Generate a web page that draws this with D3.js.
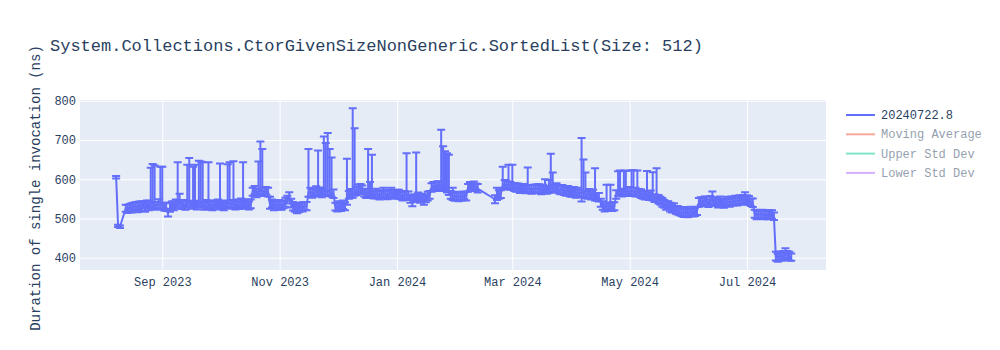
<!DOCTYPE html>
<html>
<head>
<meta charset="utf-8">
<script src="https://cdn.jsdelivr.net/npm/d3@7"></script>
<style>
  html, body { margin: 0; padding: 0; background: #fff; }
  svg { display: block; }
  text { font-family: "Courier New", "Liberation Mono", monospace; }
</style>
</head>
<body>
<svg id="chart" width="1000" height="350"></svg>
<script>
// ---------------- DATA ----------------
const chartTitle = "System.Collections.CtorGivenSizeNonGeneric.SortedList(Size: 512)";
const yAxisTitle = "Duration of single invocation (ns)";
const legendNames = ["20240722.8", "Moving Average", "Upper Std Dev", "Lower Std Dev"];
const legendColors = ["#636efa", "#EF553B", "#00cc96", "#ab63fa"];
const legendVisible = [true, false, false, false];

const xTickDates = ["2023-09-01", "2023-11-01", "2024-01-01", "2024-03-01", "2024-05-01", "2024-07-01"];
const xTickLabels = ["Sep 2023", "Nov 2023", "Jan 2024", "Mar 2024", "May 2024", "Jul 2024"];
const yTicks = [400, 500, 600, 700, 800];
const xRange = ["2023-07-20T05:00", "2024-08-11T02:00"];
const yRange = [368.7, 801.8];

const dates = [
  "2023-08-08","2023-08-09","2023-08-10","2023-08-13","2023-08-14","2023-08-15","2023-08-16","2023-08-17","2023-08-18","2023-08-19","2023-08-20","2023-08-21","2023-08-22","2023-08-23","2023-08-24","2023-08-25","2023-08-26","2023-08-27","2023-08-28","2023-08-29","2023-08-30","2023-08-31",
  "2023-09-01","2023-09-02","2023-09-03","2023-09-04","2023-09-05","2023-09-06","2023-09-07","2023-09-08","2023-09-09","2023-09-10","2023-09-11","2023-09-12","2023-09-13","2023-09-14","2023-09-15","2023-09-16","2023-09-17","2023-09-18","2023-09-19","2023-09-20","2023-09-21","2023-09-22","2023-09-23","2023-09-24","2023-09-25","2023-09-26","2023-09-27","2023-09-28","2023-09-29","2023-09-30",
  "2023-10-01","2023-10-02","2023-10-03","2023-10-04","2023-10-05","2023-10-06","2023-10-07","2023-10-08","2023-10-09","2023-10-10","2023-10-11","2023-10-12","2023-10-13","2023-10-14","2023-10-15","2023-10-16","2023-10-17","2023-10-18","2023-10-19","2023-10-20","2023-10-21","2023-10-22","2023-10-23","2023-10-24","2023-10-25","2023-10-26","2023-10-27","2023-10-28","2023-10-29","2023-10-30","2023-10-31",
  "2023-11-01","2023-11-02","2023-11-03","2023-11-04","2023-11-05","2023-11-06","2023-11-07","2023-11-08","2023-11-09","2023-11-10","2023-11-11","2023-11-12","2023-11-13","2023-11-14","2023-11-15","2023-11-16","2023-11-17","2023-11-18","2023-11-19","2023-11-20","2023-11-21","2023-11-22","2023-11-23","2023-11-24","2023-11-25","2023-11-26","2023-11-27","2023-11-28","2023-11-29","2023-11-30",
  "2023-12-01","2023-12-02","2023-12-03","2023-12-04","2023-12-05","2023-12-06","2023-12-07","2023-12-08","2023-12-09","2023-12-10","2023-12-11","2023-12-12","2023-12-13","2023-12-14","2023-12-15","2023-12-16","2023-12-17","2023-12-18","2023-12-19","2023-12-20","2023-12-21","2023-12-22","2023-12-23","2023-12-24","2023-12-25","2023-12-26","2023-12-27","2023-12-28","2023-12-29","2023-12-30","2023-12-31",
  "2024-01-01","2024-01-02","2024-01-03","2024-01-04","2024-01-05","2024-01-06","2024-01-07","2024-01-08","2024-01-09","2024-01-10","2024-01-11","2024-01-12","2024-01-13","2024-01-14","2024-01-15","2024-01-16","2024-01-17","2024-01-18","2024-01-19","2024-01-20","2024-01-21","2024-01-22","2024-01-23","2024-01-24","2024-01-25","2024-01-26","2024-01-27","2024-01-28","2024-01-29","2024-01-30","2024-01-31",
  "2024-02-01","2024-02-02","2024-02-03","2024-02-04","2024-02-05","2024-02-06","2024-02-07","2024-02-08","2024-02-09","2024-02-10","2024-02-11","2024-02-12","2024-02-21","2024-02-22","2024-02-23","2024-02-24","2024-02-25","2024-02-26","2024-02-27","2024-02-28","2024-02-29",
  "2024-03-01","2024-03-02","2024-03-03","2024-03-04","2024-03-05","2024-03-06","2024-03-07","2024-03-08","2024-03-09","2024-03-10","2024-03-11","2024-03-12","2024-03-13","2024-03-14","2024-03-15","2024-03-16","2024-03-17","2024-03-18","2024-03-19","2024-03-20","2024-03-21","2024-03-22","2024-03-23","2024-03-24","2024-03-25","2024-03-26","2024-03-27","2024-03-28","2024-03-29","2024-03-30","2024-03-31",
  "2024-04-01","2024-04-02","2024-04-03","2024-04-04","2024-04-05","2024-04-06","2024-04-07","2024-04-08","2024-04-09","2024-04-10","2024-04-11","2024-04-12","2024-04-13","2024-04-14","2024-04-15","2024-04-16","2024-04-17","2024-04-18","2024-04-19","2024-04-20","2024-04-21","2024-04-22","2024-04-23","2024-04-24","2024-04-25","2024-04-26","2024-04-27","2024-04-28","2024-04-29","2024-04-30",
  "2024-05-01","2024-05-02","2024-05-03","2024-05-04","2024-05-05","2024-05-06","2024-05-07","2024-05-08","2024-05-09","2024-05-10","2024-05-11","2024-05-12","2024-05-13","2024-05-14","2024-05-15","2024-05-16","2024-05-17","2024-05-18","2024-05-19","2024-05-20","2024-05-21","2024-05-22","2024-05-23","2024-05-24","2024-05-25","2024-05-26","2024-05-27","2024-05-28","2024-05-29","2024-05-30","2024-05-31",
  "2024-06-01","2024-06-02","2024-06-03","2024-06-04","2024-06-05","2024-06-06","2024-06-07","2024-06-08","2024-06-09","2024-06-10","2024-06-11","2024-06-12","2024-06-13","2024-06-14","2024-06-15","2024-06-16","2024-06-17","2024-06-18","2024-06-19","2024-06-20","2024-06-21","2024-06-22","2024-06-23","2024-06-24","2024-06-25","2024-06-26","2024-06-27","2024-06-28","2024-06-29","2024-06-30",
  "2024-07-01","2024-07-02","2024-07-03","2024-07-04","2024-07-05","2024-07-06","2024-07-07","2024-07-08","2024-07-09","2024-07-10","2024-07-11","2024-07-12","2024-07-13","2024-07-14","2024-07-15","2024-07-16","2024-07-17","2024-07-18","2024-07-19","2024-07-20","2024-07-21","2024-07-22","2024-07-23","2024-07-24"
];

const values = [
  605,481,479,526,524,528,527,530,532,529,533,531,535,530,536,533,540,538,535,532,537,534,
  536,530,528,515,527,533,531,538,540,545,534,537,532,540,542,535,538,540,533,541,539,537,532,535,540,534,531,536,533,538,
  540,534,530,536,538,541,535,539,533,536,534,538,540,535,537,533,536,568,571,566,568,572,569,567,570,566,535,538,531,536,533,
  537,532,535,540,548,555,540,530,527,522,526,530,528,532,530,565,568,563,567,570,566,569,564,571,568,572,567,565,562,530,
  528,532,529,534,531,545,560,563,565,568,570,574,578,572,566,562,565,568,563,560,564,561,558,562,565,561,559,563,566,562,560,
  563,561,558,556,560,562,557,550,543,552,558,556,549,553,545,551,556,560,578,583,580,585,582,586,580,582,576,570,560,557,555,
  558,554,557,555,559,556,578,581,583,582,579,576,549,557,560,562,585,588,584,587,583,
  586,580,577,579,575,578,576,574,577,575,573,576,574,577,575,572,574,576,573,575,578,580,576,578,574,572,575,570,568,571,566,
  565,568,563,566,564,567,565,562,560,563,558,561,556,555,553,540,532,528,533,530,535,529,531,560,568,571,566,569,572,567,
  570,568,571,566,569,565,562,560,558,561,557,559,556,552,555,548,545,540,537,532,534,528,525,527,522,520,518,516,514,517,513,
  515,518,514,516,519,540,544,541,546,543,539,545,548,544,541,538,542,540,537,541,543,540,544,542,546,543,547,545,548,546,
  549,545,541,539,512,508,511,509,512,507,510,508,511,509,505,403,400,404,402,405,410,407,403,401
];

const errPlus = [
  3,3,3,9,10,9,12,10,9,13,10,12,9,13,10,12,89,101,100,10,12,98,
  96,10,12,10,12,10,13,10,103,18,12,10,12,97,112,10,94,97,12,106,106,106,10,12,103,10,12,10,13,10,
  100,10,12,10,100,102,12,107,10,12,10,13,103,10,12,10,12,10,12,10,77,124,108,12,10,12,20,10,12,10,12,
  10,12,10,13,10,12,10,12,10,10,12,10,13,10,12,112,10,12,10,12,107,10,12,138,124,146,110,90,12,10,
  10,12,10,12,10,107,10,12,216,162,10,12,10,12,10,12,112,25,99,10,12,10,12,10,13,10,12,10,12,10,12,
  10,12,10,12,10,104,12,10,12,10,110,10,12,10,12,10,12,10,12,10,13,10,12,140,104,89,90,92,10,21,10,
  10,12,10,12,10,12,10,12,10,12,10,12,10,21,12,10,47,10,12,50,10,
  51,10,12,10,12,10,12,10,53,10,12,10,12,10,12,10,12,24,10,23,87,37,10,12,10,12,10,12,10,12,10,
  10,12,10,12,10,138,85,55,10,12,10,12,72,10,12,10,12,10,53,10,51,12,10,12,52,51,10,53,49,12,
  10,55,52,12,53,10,12,10,12,60,10,12,62,10,73,12,10,12,10,12,10,12,10,12,10,12,10,12,10,12,10,
  10,12,10,12,10,12,10,12,10,12,10,12,21,10,12,10,14,10,12,10,12,10,12,10,12,10,12,10,12,21,
  10,12,10,12,10,12,10,12,10,12,10,12,10,12,10,12,10,12,10,12,14,10,12,10
];

const errMinus = [
  3,3,3,9,10,9,12,10,9,13,10,12,9,13,10,12,10,12,10,10,12,10,
  10,10,9,10,10,9,10,12,10,10,10,9,10,10,12,10,10,12,10,10,10,10,10,9,10,10,10,9,10,10,
  10,10,9,10,10,12,10,10,10,9,10,10,10,10,9,10,10,10,10,12,10,10,10,10,9,10,10,10,10,9,10,
  10,10,9,10,10,10,12,10,10,9,10,10,10,10,9,10,12,10,10,10,10,9,10,10,10,12,10,10,10,10,
  10,9,10,10,10,10,10,10,12,10,10,9,10,10,10,10,10,10,10,9,10,10,10,10,10,9,10,10,10,10,10,
  10,10,9,10,10,10,10,10,12,10,10,10,9,10,10,10,10,10,10,10,10,9,10,10,10,10,10,10,10,10,10,
  10,10,10,9,10,10,10,10,10,10,9,10,10,10,10,10,10,10,10,10,10,
  10,10,9,10,10,10,10,10,10,9,10,10,10,10,9,10,10,10,10,10,10,10,10,9,10,10,10,10,10,10,10,
  10,10,10,10,10,24,10,10,10,10,10,10,10,10,10,10,10,10,10,10,10,10,10,10,10,10,10,10,10,10,
  10,10,9,10,10,10,10,10,10,9,10,10,10,10,9,10,10,10,10,10,10,10,10,9,10,10,10,10,10,10,10,
  10,10,9,10,10,10,10,10,10,9,10,10,10,10,9,10,10,10,10,10,10,10,10,9,10,10,10,10,10,10,
  10,10,9,10,10,10,10,10,10,9,10,10,10,10,9,10,10,10,10,10,10,10,10,9
];

// ---------------- CHART ----------------
const plot = { left: 80, right: 826, top: 100, bottom: 270 };
const parseDay = d3.timeParse("%Y-%m-%d");
const parseDT = d3.timeParse("%Y-%m-%dT%H:%M");
const fontStack = '"Courier New", "Liberation Mono", monospace';

const n = Math.min(dates.length, values.length, errPlus.length, errMinus.length);
const data = d3.range(n).map(i => ({
  date: parseDay(dates[i]), v: values[i], ep: errPlus[i], em: errMinus[i]
}));

const x = d3.scaleTime().domain(xRange.map(parseDT)).range([plot.left, plot.right]);
const y = d3.scaleLinear().domain(yRange).range([plot.bottom, plot.top]);

const svg = d3.select("#chart");
const textColor = "#2a3f5f";

svg.append("rect").attr("x", 0).attr("y", 0).attr("width", 1000).attr("height", 350).attr("fill", "#fff");
svg.append("rect")
  .attr("x", plot.left).attr("y", plot.top)
  .attr("width", plot.right - plot.left).attr("height", plot.bottom - plot.top)
  .attr("fill", "#E5ECF6");

const xTicks = xTickDates.map(parseDay);
const xAxis = d3.axisBottom(x).tickValues(xTicks)
  .tickFormat((d, i) => xTickLabels[i]).tickSize(-(plot.bottom - plot.top)).tickPadding(7);
const gx = svg.append("g").attr("transform", `translate(0,${plot.bottom})`).call(xAxis);
gx.select(".domain").remove();
gx.selectAll(".tick line").attr("stroke", "#fff").attr("stroke-width", 1);
gx.selectAll(".tick text").attr("fill", textColor).attr("font-size", 12).attr("font-family", fontStack);

const yAxis = d3.axisLeft(y).tickValues(yTicks).tickFormat(d3.format("d"))
  .tickSize(-(plot.right - plot.left)).tickPadding(4);
const gy = svg.append("g").attr("transform", `translate(${plot.left},0)`).call(yAxis);
gy.select(".domain").remove();
gy.selectAll(".tick line").attr("stroke", "#fff").attr("stroke-width", 1);
gy.selectAll(".tick text").attr("fill", textColor).attr("font-size", 12).attr("font-family", fontStack);

svg.append("clipPath").attr("id", "clip").append("rect")
  .attr("x", plot.left).attr("y", plot.top)
  .attr("width", plot.right - plot.left).attr("height", plot.bottom - plot.top);
const g = svg.append("g").attr("clip-path", "url(#clip)");

const color = legendColors[0];
const line = d3.line().x(d => x(d.date)).y(d => y(d.v));
g.append("path").datum(data).attr("d", line)
  .attr("fill", "none").attr("stroke", color).attr("stroke-width", 2).attr("stroke-linejoin", "round");

const capHalf = 4;
g.append("g").selectAll("path").data(data).join("path")
  .attr("d", d => {
    const cx = x(d.date), yt = y(d.v + d.ep), yb = y(d.v - d.em);
    return `M${cx},${yt}V${yb}M${cx - capHalf},${yt}H${cx + capHalf}M${cx - capHalf},${yb}H${cx + capHalf}`;
  })
  .attr("fill", "none").attr("stroke", color).attr("stroke-width", 2);

svg.append("text").attr("x", 50).attr("y", 51)
  .attr("font-size", 17).attr("fill", textColor).text(chartTitle);

svg.append("text")
  .attr("transform", `translate(40,${(plot.top + plot.bottom) / 2 + 3}) rotate(-90)`)
  .attr("text-anchor", "middle").attr("font-size", 14).attr("fill", textColor)
  .text(yAxisTitle);

const leg = svg.append("g");
legendNames.forEach((name, i) => {
  const cy = 115 + i * 19.3;
  const op = legendVisible[i] ? 1 : 0.5;
  const item = leg.append("g").attr("opacity", op);
  item.append("line").attr("x1", 846).attr("x2", 875).attr("y1", cy).attr("y2", cy)
    .attr("stroke", legendColors[i]).attr("stroke-width", 2);
  item.append("text").attr("x", 881).attr("y", cy + 4)
    .attr("font-size", 12).attr("fill", textColor).text(name);
});
</script>
</body>
</html>
